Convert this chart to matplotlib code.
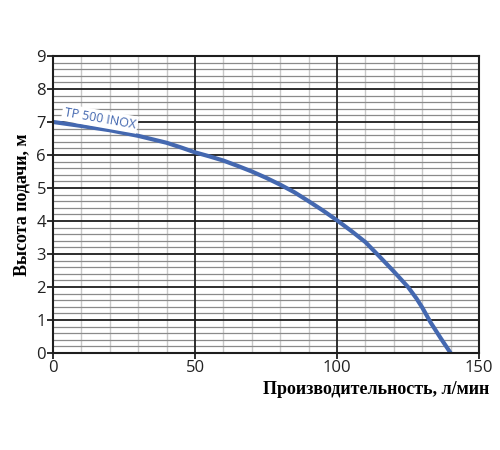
import numpy as np
import matplotlib.pyplot as plt
from matplotlib.ticker import MultipleLocator

# Q-H curve
flow = [0, 10, 20, 30, 40, 45, 50, 55, 60, 65, 70, 75, 80, 85, 90, 95, 100,
        105, 110, 115, 120, 125, 128, 130, 133, 136.5, 140]
head = [7.0, 6.88, 6.75, 6.58, 6.37, 6.23, 6.08, 5.96, 5.83, 5.67, 5.5, 5.31,
        5.1, 4.87, 4.6, 4.32, 4.02, 3.7, 3.36, 2.92, 2.47, 2.0, 1.65, 1.38,
        0.92, 0.45, 0.0]

curve_name = 'TP 500 INOX'
x_label = 'Производительность, л/мин'
y_label = 'Высота подачи, м'
line_color = '#4468b0'
dark = '#1e1e1e'

fig = plt.figure(figsize=(5, 4.5), dpi=100)
ax = fig.add_axes([0.106, 0.2156, 0.852, 0.66])

ax.set_xlim(0, 150)
ax.set_ylim(0, 9)
ax.xaxis.set_major_locator(MultipleLocator(50))
ax.xaxis.set_minor_locator(MultipleLocator(10))
ax.yaxis.set_major_locator(MultipleLocator(1))
ax.yaxis.set_minor_locator(MultipleLocator(0.2))

# minor grid first, major lines drawn on top of it
ax.grid(which='minor', axis='x', color='#c8c8c8', lw=1.0, zorder=0)
ax.grid(which='minor', axis='y', color='#8a8a8a', lw=0.9, zorder=0)
ax.set_axisbelow(True)
for xv in ax.get_xticks():
    ax.axvline(xv, color=dark, lw=1.3, zorder=1)
for yv in ax.get_yticks():
    ax.axhline(yv, color=dark, lw=1.3, zorder=1)

ax.plot(flow, head, color=line_color, lw=3, solid_capstyle='butt',
        solid_joinstyle='round', zorder=3)

ax.text(16.5, 7.1, curve_name, rotation=-10, color=line_color, fontsize=9,
        family='Open Sans', ha='center', va='center', zorder=4,
        bbox=dict(facecolor='white', edgecolor='none', pad=1.5))

for s in ax.spines.values():
    s.set_color(dark)
    s.set_linewidth(1.5)
    s.set_zorder(5)

ax.tick_params(which='minor', length=0)
ax.tick_params(which='major', length=4, width=1.3, color=dark,
               labelsize=12, pad=1, labelcolor='#222222')
for lab in ax.get_xticklabels() + ax.get_yticklabels():
    lab.set_family('Open Sans')

ax.set_xlabel(x_label, family='Liberation Serif', fontweight='bold',
              fontsize=13, labelpad=0)
ax.xaxis.set_label_coords(1.025, -0.095)
ax.xaxis.label.set_ha('right')
ax.set_ylabel(y_label, family='Liberation Serif', fontweight='bold',
              fontsize=13, labelpad=4)

fig.savefig('out.png', dpi=100)
